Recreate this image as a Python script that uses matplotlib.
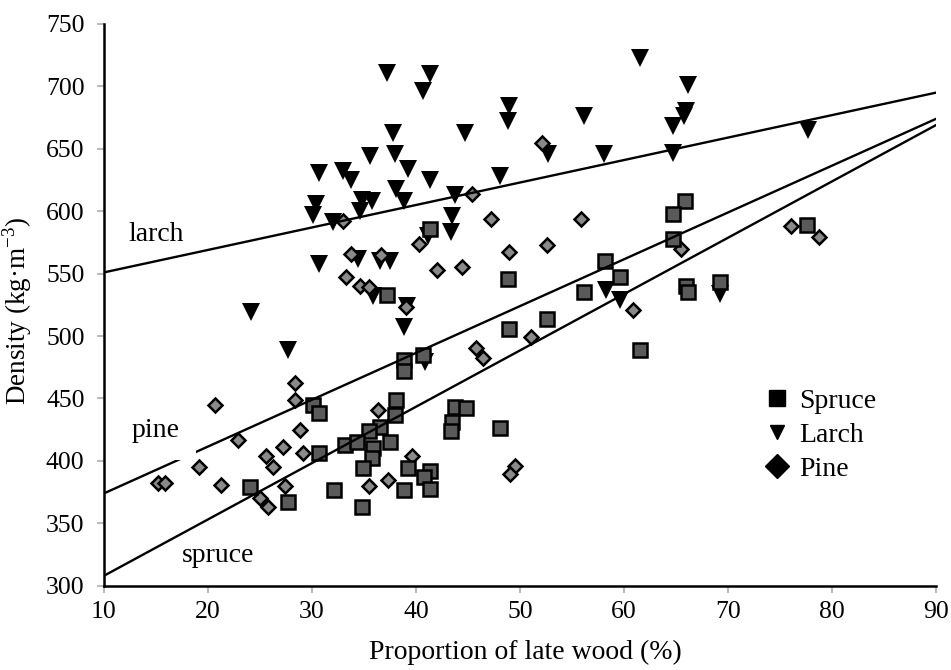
import matplotlib
matplotlib.use("Agg")
import matplotlib.pyplot as plt
from matplotlib.lines import Line2D

# proportion of late wood (%) / density (kg/m3)
spruce_x = [41.3, 58.2, 48.8, 56.2, 52.6, 48.9, 37.2, 65.9, 64.7, 64.7, 77.6, 59.6,
            66.0, 66.2, 69.2, 61.5, 38.85, 38.85, 40.7, 38.1, 38.0, 43.75, 44.8, 43.5,
            43.4, 48.1, 36.5, 35.5, 33.2, 34.3, 37.5, 35.9, 35.8, 34.9, 39.2, 41.3,
            40.8, 38.8, 41.3, 32.1, 34.8, 30.1, 30.7, 30.7, 27.7, 24.0]
spruce_y = [586, 560, 546, 535, 513.5, 506, 533, 608, 598, 578, 589, 547,
            540, 535.5, 543.5, 489, 481, 472, 485, 449, 437, 443, 442.5, 431,
            424, 426, 427, 424, 413, 415.5, 415.5, 410, 402, 394, 394, 392,
            387, 377, 377.5, 377, 363, 445, 438, 406.5, 367, 379]

larch_x = [24.1, 37.2, 41.3, 40.7, 48.9, 48.8, 56.2, 37.8, 44.7, 38.0, 35.6, 52.7,
           58.1, 30.7, 33.0, 33.7, 39.2, 41.3, 48.1, 38.1, 30.4, 34.8, 35.8, 38.8,
           43.75, 30.1, 34.6, 32.0, 43.5, 43.4, 41.2, 30.7, 34.4, 36.5, 37.5, 35.9,
           39.1, 38.8, 58.3, 59.6, 69.2, 61.5, 66.2, 66.0, 65.8, 64.7, 64.7, 77.7,
           27.7, 40.9]
larch_y = [519, 710.5, 710, 696, 684, 672, 676, 662.5, 663, 646, 644, 646,
           646, 631, 632, 625, 634, 625, 628, 618, 606, 609, 608, 608,
           613, 597, 600, 591, 596, 583, 580, 558, 562, 560, 560, 532,
           524, 507.5, 537, 529, 534, 722.5, 701, 680, 676, 668, 647, 665,
           489, 479]

pine_x = [52.1, 45.4, 33.0, 47.2, 55.9, 40.3, 48.9, 52.6, 33.7, 36.6, 42.0, 44.4,
          33.3, 34.6, 35.5, 39.0, 51.1, 65.5, 60.9, 76.1, 78.75, 45.8, 46.4, 36.3,
          39.6, 37.3, 35.5, 49.5, 49.0, 28.4, 28.4, 28.85, 27.2, 29.1, 27.4, 20.7,
          22.9, 25.6, 26.2, 19.1, 15.2, 15.9, 21.2, 25.0, 25.8]
pine_y = [655, 614, 592, 594, 594, 574, 567, 573, 566, 565, 553, 555,
          547, 540, 539, 523, 499.5, 569.5, 521, 588, 579, 490.5, 482.5, 441,
          404, 385, 380, 396, 389.5, 462, 449, 425, 411.5, 406.5, 380, 445,
          417, 404, 395.5, 395.5, 382, 382.5, 381, 370, 363]

# fitted lines, value at x = 10 and x = 90
line_x = [10, 90]
larch_line = [551, 695]
pine_line = [374, 674]
spruce_line = [308, 669]

plt.rcParams["font.family"] = ["Liberation Serif", "DejaVu Serif"]
plt.rcParams["mathtext.fontset"] = "custom"
plt.rcParams["mathtext.rm"] = "Liberation Serif"

fig = plt.figure(figsize=(9.51, 6.70), dpi=100)
ax = fig.add_axes([0.1094, 0.1258, 0.8748, 0.8384])

ax.plot(larch_x, larch_y, "v", color="black", ms=12.5, mec="black", mew=0, zorder=2)
ax.plot(pine_x, pine_y, "D", color="#8a8a8a", ms=7.2, mec="black", mew=1.8, zorder=3)
ax.plot(spruce_x, spruce_y, "s", color="#5a5a5a", ms=10.5, mec="black", mew=1.8, zorder=4)

for ly in (larch_line, pine_line, spruce_line):
    ax.plot(line_x, ly, "-", color="black", lw=1.7, zorder=5)

ax.text(15.0, 581, "larch", fontsize=20, ha="center", va="center", zorder=6)
ax.text(14.95, 424, "pine", fontsize=20, ha="center", va="center", zorder=6,
        bbox=dict(facecolor="white", edgecolor="none", boxstyle="square,pad=0.6"))
ax.text(21.0, 324, "spruce", fontsize=20, ha="center", va="center", zorder=6)

ax.set_xlim(10, 90)
ax.set_ylim(300, 750)
ax.set_xticks(range(10, 91, 10))
ax.set_yticks(range(300, 751, 50))
ax.tick_params(labelsize=18.5, length=5, width=1.5, color="#bbbbbb", direction="out")
ax.tick_params(axis="y", pad=9)
ax.tick_params(axis="x", pad=6)
for s in ("top", "right"):
    ax.spines[s].set_visible(False)
for s in ("left", "bottom"):
    ax.spines[s].set_linewidth(1.8)

ax.set_xlabel("Proportion of late wood (%)", fontsize=20)
ax.xaxis.set_label_coords(0.507, -0.097)
ax.set_ylabel("Density (kg·m$^{-3}$)", fontsize=19.5)
ax.yaxis.set_label_coords(-0.084, 0.49)

handles = [
    Line2D([], [], ls="none", marker="s", color="black", ms=11),
    Line2D([], [], ls="none", marker="v", color="black", ms=10),
    Line2D([], [], ls="none", marker="D", color="black", ms=12),
]
ax.legend(handles, ["Spruce", "Larch", "Pine"], loc="center left",
          bbox_to_anchor=(0.792, 0.268), frameon=False, fontsize=20,
          handlelength=1.0, handletextpad=0.3, labelspacing=0.3,
          borderpad=0, borderaxespad=0)

fig.savefig("out.png", dpi=100)
